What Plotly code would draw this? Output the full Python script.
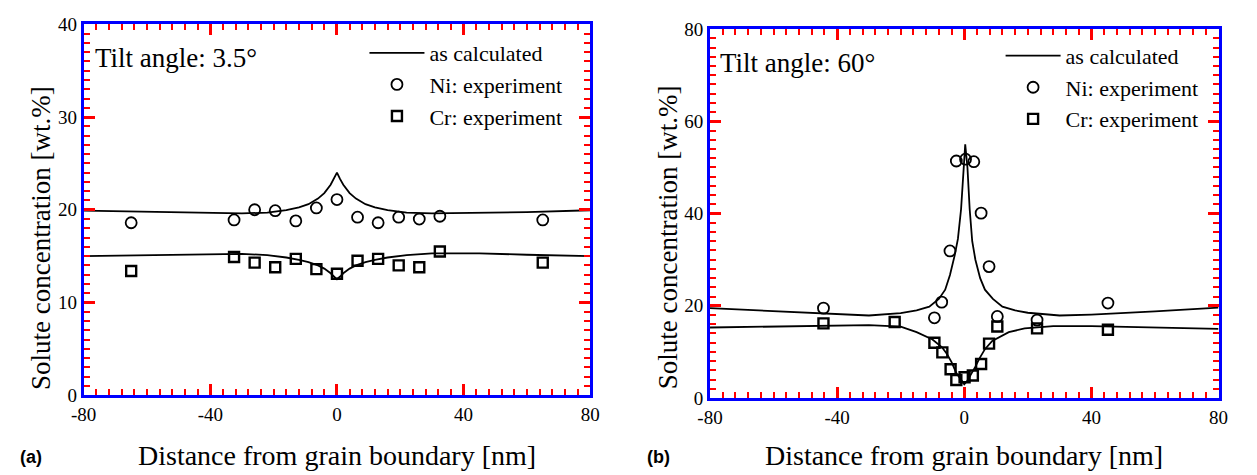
import plotly.graph_objects as go

# ---------------- Panel (a): tilt angle 3.5 deg ----------------
x_exp_a = [-65, -32.5, -26, -19.5, -13, -6.5, 0, 6.5, 13, 19.5, 26, 32.5, 65]
ni_exp_a = [18.6, 18.9, 20.0, 19.9, 18.8, 20.2, 21.1, 19.2, 18.6, 19.2, 19.0, 19.3, 18.9]
cr_exp_a = [13.4, 14.9, 14.3, 13.8, 14.7, 13.6, 13.1, 14.5, 14.7, 14.0, 13.8, 15.5, 14.3]

x_calc_a = [-80, -60, -45, -30, -22, -16, -12, -9, -6, -4, -2, -1, 0,
            1, 2, 4, 6, 9, 12, 16, 22, 30, 45, 60, 80]
ni_calc_a = [19.9, 19.75, 19.65, 19.6, 19.7, 19.95, 20.25, 20.6, 21.2, 21.8, 22.7, 23.3, 24.0,
             23.3, 22.7, 21.8, 21.2, 20.6, 20.25, 19.95, 19.7, 19.6, 19.65, 19.75, 19.95]
cr_calc_a = [15.0, 15.1, 15.2, 15.25, 15.1, 14.85, 14.6, 14.35, 14.0, 13.65, 13.15, 12.8, 12.5,
             12.8, 13.15, 13.65, 14.0, 14.35, 14.6, 14.85, 15.1, 15.3, 15.3, 15.15, 15.0]

# ---------------- Panel (b): tilt angle 60 deg ----------------
x_ni_exp_b = [-44.3, -9.4, -7.1, -4.5, -2.5, 0.4, 3.0, 5.3, 7.8, 10.4, 22.9, 45.2]
ni_exp_b = [19.5, 17.4, 20.8, 31.9, 51.4, 51.8, 51.25, 40.1, 28.5, 17.7, 16.9, 20.6]
x_cr_exp_b = [-44.3, -21.9, -9.4, -6.9, -4.3, -2.5, 0.1, 2.7, 5.3, 7.8, 10.4, 22.9, 45.2]
cr_exp_b = [16.2, 16.5, 12.0, 9.9, 6.25, 3.9, 4.5, 4.9, 7.4, 11.8, 15.5, 15.1, 14.8]

x_ni_calc_b = [-80, -60, -40, -30, -20, -15, -11, -8, -6, -4.5, -3, -2, -1, -0.3, 0.3,
               1, 1.7, 2.5, 3.5, 5, 6.5, 9, 12, 16, 20, 30, 40, 60, 80]
ni_calc_b = [19.5, 18.9, 18.3, 17.9, 18.4, 19.0, 19.8, 21.5, 23.5, 26.7, 31.0, 34.5, 41, 50, 55,
             50, 41, 34, 30, 26, 23.5, 21.5, 19.8, 19.0, 18.5, 17.9, 18.1, 18.8, 19.6]
x_cr_calc_b = [-80, -60, -40, -30, -20, -15, -10, -7, -5.5, -4, -2.5, -1, 0,
               1, 2.2, 3.5, 4.7, 6.5, 8.8, 14, 19, 28, 40, 60, 80]
cr_calc_b = [15.3, 15.5, 15.8, 15.8, 15.5, 14.3, 12.7, 11.0, 9.6, 7.8, 5.4, 3.8, 3.0,
             3.8, 5.1, 6.8, 8.5, 10.6, 12.4, 14.3, 15.1, 15.6, 15.6, 15.3, 15.0]

x_ticks = [-80, -40, 0, 40, 80]
x_tick_text = ["-80", "-40", "0", "40", "80"]

SERIF = "Liberation Serif, Times New Roman, Times, serif"
W, H = 1257, 475
INK = "#000000"
TICK = "red"
FRAME = "blue"

def px_x(p):
    return p / W

def px_y(p):
    return 1 - p / H

fig = go.Figure()

line_style = dict(color=INK, width=1.8)
circ = dict(symbol="circle-open", size=11, color=INK, line=dict(color=INK, width=1.8))
sq = dict(symbol="square-open", size=10, color=INK, line=dict(color=INK, width=2.4))

fig.add_trace(go.Scatter(x=x_calc_a, y=ni_calc_a, mode="lines", line=line_style,
                         name="as calculated", xaxis="x", yaxis="y"))
fig.add_trace(go.Scatter(x=x_calc_a, y=cr_calc_a, mode="lines", line=line_style,
                         name="as calculated", showlegend=False, xaxis="x", yaxis="y"))
fig.add_trace(go.Scatter(x=x_exp_a, y=ni_exp_a, mode="markers", marker=circ,
                         name="Ni: experiment", xaxis="x", yaxis="y"))
fig.add_trace(go.Scatter(x=x_exp_a, y=cr_exp_a, mode="markers", marker=sq,
                         name="Cr: experiment", xaxis="x", yaxis="y"))

fig.add_trace(go.Scatter(x=x_ni_calc_b, y=ni_calc_b, mode="lines", line=line_style,
                         name="as calculated", xaxis="x2", yaxis="y2", legend="legend2"))
fig.add_trace(go.Scatter(x=x_cr_calc_b, y=cr_calc_b, mode="lines", line=line_style,
                         name="as calculated", showlegend=False, xaxis="x2", yaxis="y2"))
fig.add_trace(go.Scatter(x=x_ni_exp_b, y=ni_exp_b, mode="markers", marker=circ,
                         name="Ni: experiment", xaxis="x2", yaxis="y2", legend="legend2"))
fig.add_trace(go.Scatter(x=x_cr_exp_b, y=cr_exp_b, mode="markers", marker=sq,
                         name="Cr: experiment", xaxis="x2", yaxis="y2", legend="legend2"))

tickfont = dict(family=SERIF, size=19, color=INK)

def xaxis_style(domain, anchor):
    return dict(domain=domain, anchor=anchor, range=[-80, 80],
                tickmode="array", tickvals=x_ticks, ticktext=x_tick_text,
                ticks="inside", ticklen=11, tickwidth=2.6, tickcolor=TICK,
                minor=dict(tickmode="linear", dtick=4, tick0=0, ticks="inside", ticklen=6,
                           tickwidth=2.3, tickcolor=TICK),
                showline=True, linewidth=3, linecolor=FRAME, mirror="allticks",
                showgrid=False, zeroline=False, showticklabels=True, tickfont=tickfont)

def yaxis_style(domain, anchor, rng, dt, mdt):
    return dict(domain=domain, anchor=anchor, range=rng, tickmode="linear", dtick=dt, tick0=0,
                ticks="inside", ticklen=11, tickwidth=2.6, tickcolor=TICK,
                minor=dict(tickmode="linear", dtick=mdt, tick0=0, ticks="inside", ticklen=6,
                           tickwidth=2.3, tickcolor=TICK),
                showline=True, linewidth=3, linecolor=FRAME, mirror="allticks",
                showgrid=False, zeroline=False, showticklabels=True, tickfont=tickfont)

xa_dom = [px_x(72), px_x(588)]
ya_dom = [px_y(403), px_y(15)]
xb_dom = [px_x(710), px_x(1228)]
yb_dom = [px_y(406), px_y(20)]

legfont = dict(family=SERIF, size=22, color=INK)

annotations = []
for xc in [(72 + 588) / 2, (710 + 1228) / 2]:
    annotations.append(dict(text="Distance from grain boundary [nm]", xref="paper", yref="paper",
                            x=px_x(xc), y=px_y(466), xanchor="center", yanchor="middle",
                            showarrow=False, font=dict(family=SERIF, size=28, color=INK)))
for xc in [29, 668]:
    annotations.append(dict(text="Solute concentration [wt.%]", xref="paper", yref="paper",
                            x=px_x(xc), y=px_y(238), xanchor="center", yanchor="middle",
                            textangle=-90, showarrow=False,
                            font=dict(family=SERIF, size=27, color=INK)))
annotations.append(dict(text="Tilt angle: 3.5°", xref="paper", yref="paper",
                        x=px_x(82), y=px_y(50), xanchor="left", yanchor="middle",
                        showarrow=False, font=dict(family=SERIF, size=27, color=INK)))
annotations.append(dict(text="Tilt angle: 60°", xref="paper", yref="paper",
                        x=px_x(718), y=px_y(55), xanchor="left", yanchor="middle",
                        showarrow=False, font=dict(family=SERIF, size=27, color=INK)))
for lab, xc in [("(a)", 18), ("(b)", 658)]:
    annotations.append(dict(text="<b>%s</b>" % lab, xref="paper", yref="paper",
                            x=px_x(xc), y=px_y(468), xanchor="center", yanchor="middle",
                            showarrow=False, font=dict(family="Liberation Sans, Arial, sans-serif",
                                                       size=18, color=INK)))

fig.update_layout(
    width=W, height=H,
    margin=dict(l=0, r=0, t=0, b=0),
    paper_bgcolor="white", plot_bgcolor="white",
    xaxis=xaxis_style(xa_dom, "y"),
    yaxis=yaxis_style(ya_dom, "x", [0, 40], 10, 1),
    xaxis2=xaxis_style(xb_dom, "y2"),
    yaxis2=yaxis_style(yb_dom, "x2", [0, 80], 20, 2),
    legend=dict(x=px_x(358), y=px_y(23), xanchor="left", yanchor="top",
                bgcolor="rgba(0,0,0,0)", borderwidth=0, font=legfont, itemwidth=55),
    legend2=dict(x=px_x(1006), y=px_y(26), xanchor="left", yanchor="top",
                 bgcolor="rgba(0,0,0,0)", borderwidth=0, font=legfont, itemwidth=55),
    annotations=annotations,
    showlegend=True,
)

fig.write_html("out.html")
